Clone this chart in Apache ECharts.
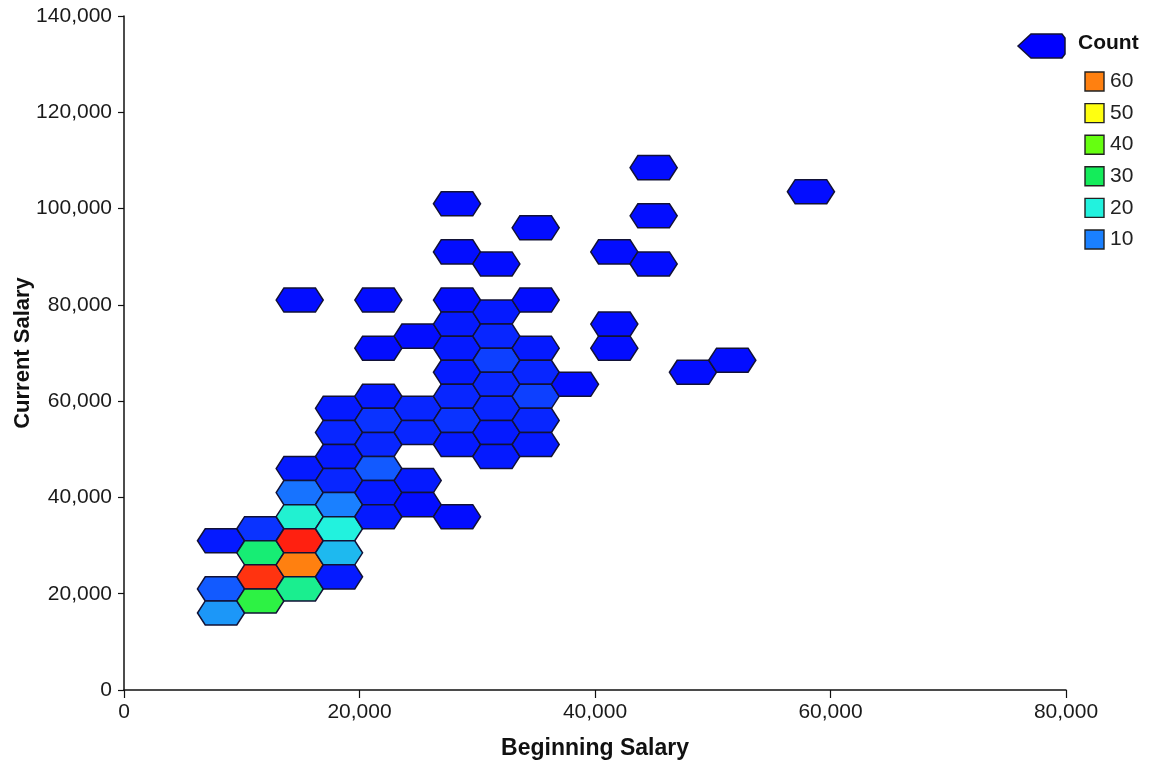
<!DOCTYPE html>
<html>
<head>
<meta charset="utf-8">
<title>Current vs Beginning Salary</title>
<script src="https://cdn.jsdelivr.net/npm/echarts@6/dist/echarts.min.js"></script>
<style>
  html, body { margin: 0; padding: 0; background: #fff; }
  #chart { width: 1153px; height: 765px; }
</style>
</head>
<body>
<div id="chart"></div>
<script>
// hex bins, listed column by column (bin centre x, bin centre y, count)
var beginningSalary = [
  8240, 8240, 8240,
  11580, 11580, 11580, 11580,
  14920, 14920, 14920, 14920, 14920, 14920, 14920,
  18260, 18260, 18260, 18260, 18260, 18260, 18260, 18260,
  21600, 21600, 21600, 21600, 21600, 21600, 21600, 21600,
  24940, 24940, 24940, 24940, 24940,
  28280, 28280, 28280, 28280, 28280, 28280, 28280, 28280, 28280, 28280,
  31620, 31620, 31620, 31620, 31620, 31620, 31620, 31620,
  34960, 34960, 34960, 34960, 34960, 34960, 34960,
  38300,
  41640, 41640, 41640,
  44980, 44980, 44980,
  48320,
  51660,
  58340
];
var currentSalary = [
  31000, 21000, 16000,
  33500, 28500, 23500, 18500,
  81000, 46000, 41000, 36000, 31000, 26000, 21000,
  58500, 53500, 48500, 43500, 38500, 33500, 28500, 23500,
  81000, 71000, 61000, 56000, 51000, 46000, 41000, 36000,
  73500, 58500, 53500, 43500, 38500,
  101000, 91000, 81000, 76000, 71000, 66000, 61000, 56000, 51000, 36000,
  88500, 78500, 73500, 68500, 63500, 58500, 53500, 48500,
  96000, 81000, 71000, 66000, 61000, 56000, 51000,
  63500,
  91000, 76000, 71000,
  108500, 98500, 88500,
  66000,
  68500,
  103500
];
var hexCount = [
  2, 7, 12,
  4, 28, 68, 33,
  1, 2, 9, 21, 70, 60, 26,
  2, 3, 2, 3, 10, 20, 15, 2,
  1, 1, 2, 4, 3, 7, 2, 2,
  1, 3, 3, 2, 1,
  1, 1, 1, 2, 2, 2, 3, 4, 2, 1,
  1, 2, 3, 5, 3, 3, 2, 2,
  1, 1, 2, 3, 5, 3, 2,
  1,
  1, 1, 1,
  1, 1, 1,
  1,
  1,
  1
];
var legendLevels = [60, 50, 40, 30, 20, 10];
var xTicks = [0, 20000, 40000, 60000, 80000];
var yTicks = [0, 20000, 40000, 60000, 80000, 100000, 120000, 140000];

// colour ramp, one stop every 10 counts from 0 to 70
var rampColors = ['#0000ff', '#1a80ff', '#22f2de', '#14ec5a', '#66ff10', '#ffff10', '#ff8010', '#ff2010'];

// hexagon half sizes in data units
var HALF_W = 2000;
var FLAT_HALF = 1340;
var HALF_H = 2500;

var fontName = 'Liberation Sans, Arial, sans-serif';

function fmt(v) {
  return v.toLocaleString('en-US');
}

function renderHex(params, api) {
  var cx = api.value(0);
  var cy = api.value(1);
  var pts = [
    [cx - HALF_W, cy],
    [cx - FLAT_HALF, cy + HALF_H],
    [cx + FLAT_HALF, cy + HALF_H],
    [cx + HALF_W, cy],
    [cx + FLAT_HALF, cy - HALF_H],
    [cx - FLAT_HALF, cy - HALF_H]
  ].map(function (p) { return api.coord(p); });
  return {
    type: 'polygon',
    shape: { points: pts },
    style: { fill: api.visual('color'), stroke: '#121236', lineWidth: 1.5 }
  };
}

var hexData = beginningSalary.map(function (x, i) {
  return [x, currentSalary[i], hexCount[i]];
});

// legend (hex icon, title, swatches)
var legendGraphics = [
  {
    type: 'polygon',
    shape: { points: [[1018, 46], [1031, 34], [1062, 34], [1065, 38], [1065, 54], [1062, 58], [1031, 58]] },
    style: { fill: '#0000ff', stroke: '#121236', lineWidth: 1.5 }
  },
  {
    type: 'text', left: 1078, top: 33,
    style: { text: 'Count', font: 'bold 21px ' + fontName, fill: '#111' }
  }
];
legendLevels.forEach(function (lv, i) {
  var y = 72 + i * 31.6;
  legendGraphics.push({
    type: 'rect',
    shape: { x: 1085, y: y, width: 19, height: 19 },
    style: { fill: rampColors[lv / 10], stroke: '#222', lineWidth: 1.4 }
  });
  legendGraphics.push({
    type: 'text', left: 1110, top: y - 1,
    style: { text: String(lv), font: '21px ' + fontName, fill: '#222' }
  });
});

var chart = echarts.init(document.getElementById('chart'));
chart.setOption({
  backgroundColor: '#fff',
  animation: false,
  textStyle: { fontFamily: fontName },
  grid: { left: 124, right: 87, top: 16, bottom: 75, containLabel: false, outerBoundsMode: 'none' },
  xAxis: {
    type: 'value',
    min: xTicks[0],
    max: xTicks[xTicks.length - 1],
    interval: xTicks[1] - xTicks[0],
    name: 'Beginning Salary',
    nameLocation: 'middle',
    nameMoveOverlap: false,
    nameGap: 47,
    nameTextStyle: { fontSize: 23, fontWeight: 'bold', color: '#111' },
    axisLine: { lineStyle: { color: '#111', width: 1.5 } },
    axisTick: { length: 8, lineStyle: { color: '#111', width: 1.2 } },
    axisLabel: { formatter: fmt, fontSize: 21, color: '#1a1a1a', margin: 12 },
    splitLine: { show: false }
  },
  yAxis: {
    type: 'value',
    min: yTicks[0],
    max: yTicks[yTicks.length - 1],
    interval: yTicks[1] - yTicks[0],
    name: 'Current Salary',
    nameLocation: 'middle',
    nameMoveOverlap: false,
    nameGap: 90,
    nameTextStyle: { fontSize: 22, fontWeight: 'bold', color: '#111' },
    axisLine: { show: true, lineStyle: { color: '#111', width: 1.5 } },
    axisTick: { show: true, length: 6, lineStyle: { color: '#111', width: 1.2 } },
    axisLabel: { formatter: fmt, fontSize: 21, color: '#1a1a1a', margin: 12 },
    splitLine: { show: false }
  },
  visualMap: {
    show: false,
    type: 'continuous',
    dimension: 2,
    min: 0,
    max: 70,
    inRange: { color: rampColors }
  },
  graphic: legendGraphics,
  series: [{
    type: 'custom',
    renderItem: renderHex,
    encode: { x: 0, y: 1 },
    data: hexData
  }]
});
</script>
</body>
</html>
